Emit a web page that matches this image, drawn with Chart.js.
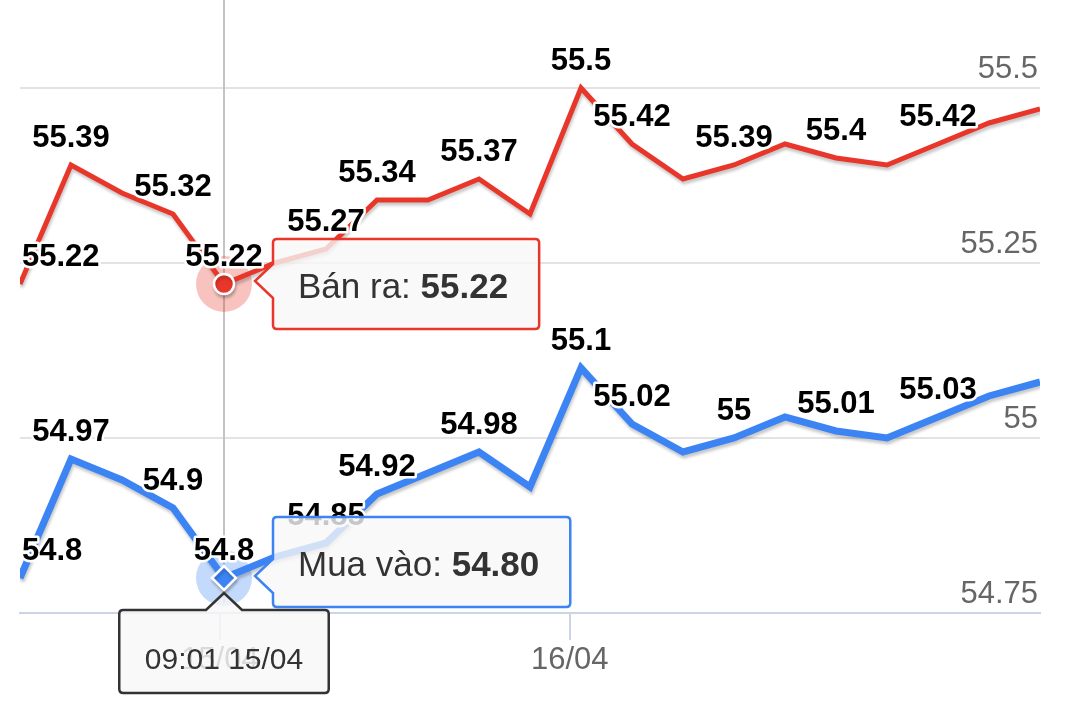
<!DOCTYPE html>
<html>
<head>
<meta charset="utf-8">
<script src="https://cdn.jsdelivr.net/npm/chart.js@4.4.1/dist/chart.umd.min.js"></script>
<style>
  html, body { margin: 0; padding: 0; background: #fff; }
  #wrap { width: 1066px; height: 727px; }
</style>
</head>
<body>
<div id="wrap"><canvas id="c" width="1066" height="727"></canvas></div>
<script>
// ---- data ----
const sampleIdx = [0,1,2,3,4,5,6,7,8,9,10,11,12,13,14,15,16,17,18,19,20];
const banRa  = [55.22,55.39,55.35,55.32,55.22,55.25,55.27,55.34,55.34,55.37,55.32,55.5,55.42,55.37,55.39,55.42,55.4,55.39,55.42,55.45,55.47];
const muaVao = [54.8,54.97,54.94,54.9,54.8,54.83,54.85,54.92,54.95,54.98,54.93,55.1,55.02,54.98,55,55.03,55.01,55,55.03,55.06,55.08];
const seriesNames = ['Bán ra', 'Mua vào'];
const labeledIdx = [0,1,3,4,6,7,9,11,12,14,16,18];
const dayTickLabels = ['15/04', '16/04'];
const dayTickAt = [3.92, 10.78];
const yTickValues = [54.75, 55, 55.25, 55.5];
const yTickLabels = ['54.75', '55', '55.25', '55.5'];
const hoverIdx = 4;
const hoverTime = '09:01 15/04';

const RED = '#e8372a';
const BLUE = '#3c84f4';
const FONT = '"Liberation Sans", Arial, Helvetica, sans-serif';

const shadowPlugin = {
  id: 'shadow',
  beforeDatasetDraw(chart) {
    const ctx = chart.ctx;
    ctx.save();
    ctx.shadowColor = 'rgba(0,0,0,0.22)';
    ctx.shadowBlur = 3;
    ctx.shadowOffsetX = 1;
    ctx.shadowOffsetY = 3;
  },
  afterDatasetDraw(chart) { chart.ctx.restore(); }
};

const hoverBackPlugin = {
  id: 'hoverBack',
  beforeDatasetsDraw(chart) {
    const ctx = chart.ctx;
    const xs = chart.scales.x, ys = chart.scales.y;
    const px = xs.getPixelForValue(sampleIdx[hoverIdx]);
    ctx.save();
    ctx.strokeStyle = '#c4c4c4';
    ctx.lineWidth = 2;
    ctx.beginPath();
    ctx.moveTo(px, 0);
    ctx.lineTo(px, chart.chartArea.bottom - 10);
    ctx.stroke();
    const halos = ['rgba(232,55,42,0.30)', 'rgba(60,132,244,0.30)'];
    [banRa, muaVao].forEach((arr, k) => {
      const py = ys.getPixelForValue(arr[hoverIdx]);
      ctx.fillStyle = halos[k];
      ctx.beginPath();
      ctx.arc(px, py, 28, 0, Math.PI * 2);
      ctx.fill();
    });
    ctx.restore();
  }
};

const labelPlugin = {
  id: 'valueLabels',
  afterDatasetsDraw(chart) {
    const ctx = chart.ctx;
    const area = chart.chartArea;
    ctx.save();
    ctx.font = 'bold 31px ' + FONT;
    ctx.textAlign = 'center';
    ctx.textBaseline = 'alphabetic';
    ctx.lineJoin = 'round';
    chart.data.datasets.forEach((ds, di) => {
      const meta = chart.getDatasetMeta(di);
      labeledIdx.forEach(i => {
        const el = meta.data[i];
        const txt = String(ds.data[i]);
        const w = ctx.measureText(txt).width;
        let x = el.x;
        if (x - w / 2 < area.left + 2) x = area.left + 2 + w / 2;
        const y = el.y - 18;
        ctx.strokeStyle = '#fff';
        ctx.lineWidth = 5;
        ctx.strokeText(txt, x, y);
        ctx.fillStyle = '#000';
        ctx.fillText(txt, x, y);
      });
    });
    ctx.restore();
  }
};

function sideTipPath(ctx, left, top, w, h, r, apexX, apexY, half) {
  ctx.beginPath();
  ctx.moveTo(left + r, top);
  ctx.lineTo(left + w - r, top);
  ctx.quadraticCurveTo(left + w, top, left + w, top + r);
  ctx.lineTo(left + w, top + h - r);
  ctx.quadraticCurveTo(left + w, top + h, left + w - r, top + h);
  ctx.lineTo(left + r, top + h);
  ctx.quadraticCurveTo(left, top + h, left, top + h - r);
  ctx.lineTo(left, apexY + half);
  ctx.lineTo(apexX, apexY);
  ctx.lineTo(left, apexY - half);
  ctx.lineTo(left, top + r);
  ctx.quadraticCurveTo(left, top, left + r, top);
  ctx.closePath();
}

function topTipPath(ctx, left, top, w, h, r, apexX, apexY, half) {
  ctx.beginPath();
  ctx.moveTo(left + r, top);
  ctx.lineTo(apexX - half, top);
  ctx.lineTo(apexX, apexY);
  ctx.lineTo(apexX + half, top);
  ctx.lineTo(left + w - r, top);
  ctx.quadraticCurveTo(left + w, top, left + w, top + r);
  ctx.lineTo(left + w, top + h - r);
  ctx.quadraticCurveTo(left + w, top + h, left + w - r, top + h);
  ctx.lineTo(left + r, top + h);
  ctx.quadraticCurveTo(left, top + h, left, top + h - r);
  ctx.lineTo(left, top + r);
  ctx.quadraticCurveTo(left, top, left + r, top);
  ctx.closePath();
}

const tooltipPlugin = {
  id: 'fixedTips',
  afterDraw(chart) {
    const ctx = chart.ctx;
    const xs = chart.scales.x, ys = chart.scales.y;
    const px = xs.getPixelForValue(sampleIdx[hoverIdx]);
    const bg = 'rgba(247,247,247,0.8)';
    const specs = [
      { arr: banRa, name: seriesNames[0], color: RED, dy: -45, apexDy: -3 },
      { arr: muaVao, name: seriesNames[1], color: BLUE, dy: -61, apexDy: -2 }
    ];
    ctx.save();
    specs.forEach(s => {
      const py = ys.getPixelForValue(s.arr[hoverIdx]);
      const pre = s.name + ': ';
      const val = s.arr[hoverIdx].toFixed(2);
      ctx.font = '35px ' + FONT;
      const w1 = ctx.measureText(pre).width;
      ctx.font = 'bold 35px ' + FONT;
      const w2 = ctx.measureText(val).width;
      const left = px + 49, top = py + s.dy, w = w1 + w2 + 56, h = 90;
      sideTipPath(ctx, left, top, w, h, 4, px + 31, py + s.apexDy, 17);
      ctx.fillStyle = bg;
      ctx.fill();
      ctx.lineWidth = 2.5;
      ctx.strokeStyle = s.color;
      ctx.stroke();
      ctx.fillStyle = '#333';
      ctx.textBaseline = 'alphabetic';
      ctx.textAlign = 'left';
      ctx.font = '35px ' + FONT;
      ctx.fillText(pre, left + 25, top + 59);
      ctx.font = 'bold 35px ' + FONT;
      ctx.fillText(val, left + 25 + w1, top + 59);
    });
    // time tooltip
    ctx.font = '30px ' + FONT;
    const tw = ctx.measureText(hoverTime).width;
    const bw = tw + 51, bh = 83;
    const bl = px - bw / 2, bt = chart.chartArea.bottom - 3;
    topTipPath(ctx, bl, bt, bw, bh, 4, px, bt - 17, 18);
    ctx.fillStyle = bg;
    ctx.fill();
    ctx.lineWidth = 2.5;
    ctx.strokeStyle = '#333';
    ctx.stroke();
    ctx.fillStyle = '#333';
    ctx.textAlign = 'center';
    ctx.textBaseline = 'alphabetic';
    ctx.fillText(hoverTime, px, bt + 59);
    ctx.restore();
  }
};

const pointR = r => (c => c.dataIndex === hoverIdx ? r : 0);
const noPad = s => { s.paddingTop = 0; s.paddingBottom = 0; s.paddingLeft = 0; s.paddingRight = 0; };

new Chart(document.getElementById('c'), {
  type: 'line',
  data: {
    labels: sampleIdx,
    datasets: [
      {
        label: seriesNames[0], data: banRa, borderColor: RED, backgroundColor: RED,
        borderWidth: 5, tension: 0, fill: false,
        pointRadius: pointR(10), pointStyle: 'circle',
        pointBackgroundColor: RED, pointBorderColor: '#fff', pointBorderWidth: 2.5
      },
      {
        label: seriesNames[1], data: muaVao, borderColor: BLUE, backgroundColor: BLUE,
        borderWidth: 7, tension: 0, fill: false,
        pointRadius: pointR(12), pointStyle: 'rectRot',
        pointBackgroundColor: BLUE, pointBorderColor: '#fff', pointBorderWidth: 2.5
      }
    ]
  },
  options: {
    responsive: false,
    animation: false,
    devicePixelRatio: 1,
    layout: { padding: { left: 20, right: 26, top: 0, bottom: 0 } },
    plugins: { legend: { display: false }, tooltip: { enabled: false } },
    scales: {
      x: {
        type: 'linear', min: 0, max: 20,
        afterBuildTicks: s => { s.ticks = dayTickAt.map(v => ({ value: v })); },
        afterFit: s => { s.height = 114; noPad(s); },
        ticks: {
          autoSkip: false, maxRotation: 0, padding: 2, color: '#666',
          font: { family: FONT, size: 31 },
          callback: (v, i) => dayTickLabels[i]
        },
        grid: { drawOnChartArea: false, drawTicks: true, tickLength: 27, color: '#cbd5e6', lineWidth: 2 },
        border: { display: true, color: '#cbd5e6', width: 2 }
      },
      y: {
        position: 'right', min: 54.75, max: 55.6257,
        afterBuildTicks: s => { s.ticks = yTickValues.map(v => ({ value: v })); },
        afterFit: s => { s.width = 0; noPad(s); },
        ticks: {
          mirror: true, padding: -2, labelOffset: -19, color: '#666',
          font: { family: FONT, size: 31 },
          callback: (v, i) => yTickLabels[i]
        },
        grid: { drawTicks: false, color: '#e3e3e3', lineWidth: 2 },
        border: { display: false }
      }
    }
  },
  plugins: [shadowPlugin, hoverBackPlugin, labelPlugin, tooltipPlugin]
});
</script>
</body>
</html>
